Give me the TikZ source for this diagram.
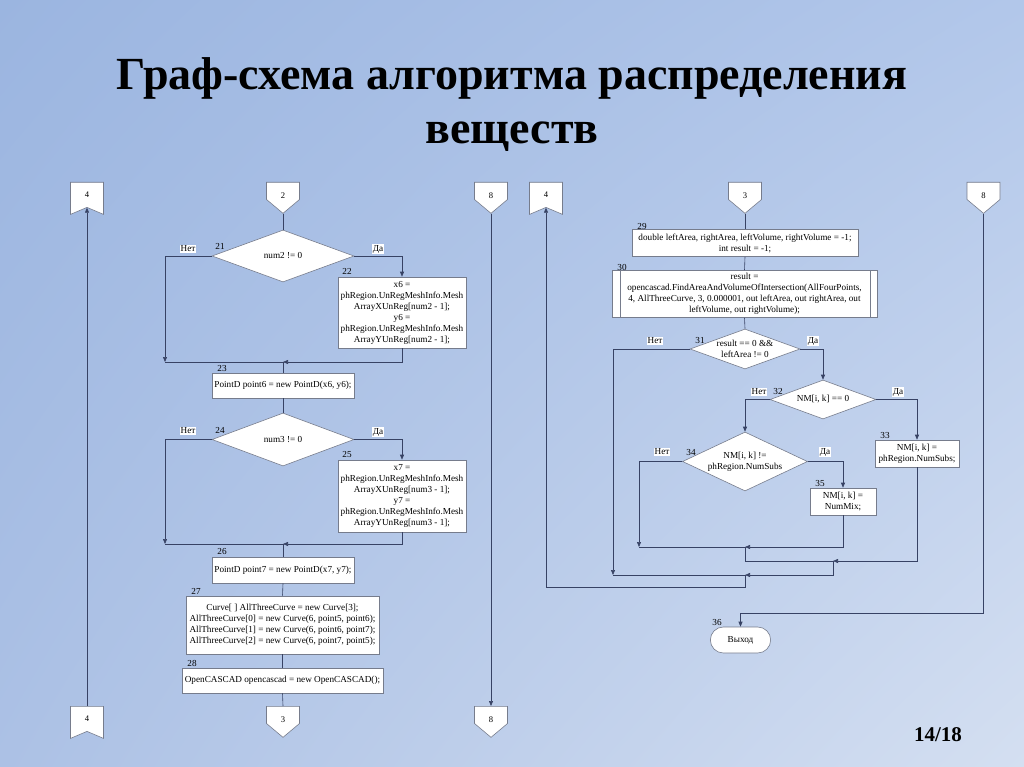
\documentclass[tikz,border=0pt]{standalone}
\usepackage{fontspec}
\setmainfont{Liberation Serif}
\usetikzlibrary{shapes.geometric,shapes.symbols,shapes.misc,arrows.meta,shadings}

\definecolor{linecol}{RGB}{55,66,100}
\definecolor{boxcol}{RGB}{118,124,140}
\definecolor{bgA}{RGB}{155,181,224}
\definecolor{bgB}{RGB}{178,199,234}
\definecolor{bgC}{RGB}{172,193,229}
\definecolor{bgD}{RGB}{212,223,241}

\tikzset{
  flow/.style={draw=linecol, line width=0.6pt},
  arr/.style={flow, -{Triangle[length=5pt,width=4pt]}},
  box/.style={rectangle, draw=boxcol, fill=white, line width=0.6pt, align=center,
    inner sep=1pt, font=\fontsize{9.2}{11}\selectfont},
  cond/.style={diamond, aspect=2.5, draw=boxcol, fill=white, line width=0.6pt,
    align=center, inner sep=-4pt, font=\fontsize{9.2}{11}\selectfont},
  pentdown/.style={signal, signal to=south, signal pointer angle=100, draw=boxcol,
    fill=white, line width=0.6pt, minimum width=33pt, minimum height=19pt,
    inner sep=0pt, text height=16pt, text depth=0pt, anchor=north,
    font=\fontsize{8.6}{10}\selectfont},
  notch/.style={signal, signal to=nowhere, signal from=south, signal pointer angle=134,
    draw=boxcol, fill=white, line width=0.6pt, minimum width=33pt, minimum height=26pt,
    inner sep=0pt, anchor=north, font=\fontsize{8.6}{10}\selectfont},
  exitbox/.style={rounded rectangle, draw=boxcol, fill=white, line width=0.6pt,
    minimum width=67pt, minimum height=26pt, font=\fontsize{9.2}{11}\selectfont},
  num/.style={inner sep=0pt, font=\fontsize{9.2}{11}\selectfont},
  yesno/.style={num, fill=white, inner sep=0.7pt},
}

\begin{document}
\begin{tikzpicture}[x=1pt, y=-1pt]

  \def\Xl{165};
  \def\Xm{283};
  \def\Xr{402};
  \def\Xp{87};
  \def\Xq{491};

  % background
  \useasboundingbox (0,0) rectangle (1024,767);
  \shade[upper left=bgA, upper right=bgB, lower left=bgC, lower right=bgD]
    (0,0) rectangle (1024,767);

  % title
  \node[font=\fontsize{46}{54}\selectfont\bfseries, align=center] (title) at (512,105)
    {Граф-схема алгоритма распределения\\веществ};
  \node[font=\fontsize{21}{24}\selectfont\bfseries] (page) at (938,735) {14/18};

  % left chart: connectors
  \node[notch] (t4a) at (\Xp,182) {4};
  \node[pentdown] (t2) at (\Xm,182) {2};
  \node[pentdown] (t8a) at (\Xq,182) {8};
  \node[notch] (c4) at (\Xp,706) {4};
  \node[pentdown] (c3) at (\Xm,706) {3};
  \node[pentdown] (c8) at (\Xq,706) {8};

  % left chart: blocks
  \node[cond, minimum width=142pt, minimum height=52pt] (d21) at (\Xm,256) {num2 != 0};
  \node[box, minimum width=128pt, minimum height=71pt] (b22) at (\Xr,312.5)
    {x6 =\\phRegion.UnRegMeshInfo.Mesh\\ArrayXUnReg[num2 - 1];\\y6 =\\phRegion.UnRegMeshInfo.Mesh\\ArrayYUnReg[num2 - 1];};
  \node[box, minimum width=142pt, minimum height=25pt] (b23) at (\Xm,385.5)
    {PointD point6 = new PointD(x6, y6);};
  \node[cond, minimum width=142pt, minimum height=53pt] (d24) at (\Xm,439.5) {num3 != 0};
  \node[box, minimum width=128pt, minimum height=72pt] (b25) at (\Xr,496)
    {x7 =\\phRegion.UnRegMeshInfo.Mesh\\ArrayXUnReg[num3 - 1];\\y7 =\\phRegion.UnRegMeshInfo.Mesh\\ArrayYUnReg[num3 - 1];};
  \node[box, minimum width=142pt, minimum height=26pt] (b26) at (\Xm,570)
    {PointD point7 = new PointD(x7, y7);};
  \node[box, minimum width=193pt, minimum height=58pt] (b27) at (282.5,625)
    {Curve[ ] AllThreeCurve = new Curve[3];\\AllThreeCurve[0] = new Curve(6, point5, point6);\\AllThreeCurve[1] = new Curve(6, point6, point7);\\AllThreeCurve[2] = new Curve(6, point7, point5);};
  \node[box, minimum width=201pt, minimum height=25pt] (b28) at (282.5,680.5)
    {OpenCASCAD opencascad = new OpenCASCAD();};

  \coordinate (j21) at (\Xl,362);
  \coordinate (m23) at (\Xm,362);
  \coordinate (j24) at (\Xl,544);
  \coordinate (m26) at (\Xm,544);

  % left chart: lines
  \draw[flow] (t2.south) -- (d21.north);
  \draw[arr] (d21.west) -| (j21);
  \draw[arr] (d21.east) -| (b22.north);
  \draw[arr] (b22.south) |- (m23);
  \draw[flow] (j21) -- (m23) -- (b23.north);
  \draw[flow] (b23.south) -- (d24.north);
  \draw[arr] (d24.west) -| (j24);
  \draw[arr] (d24.east) -| (b25.north);
  \draw[arr] (b25.south) |- (m26);
  \draw[flow] (j24) -- (m26) -- (b26.north);
  \draw[flow] (b26.south) -- (b27.north);
  \draw[flow] (b27.south) -- (b28.north);
  \draw[flow] (b28.south) -- (c3.north);
  \draw[arr] (c4.north) -- (t4a.south);
  \draw[arr] (t8a.south) -- (c8.north);

  % left chart: labels
  \node[yesno] (n21) at (188,249) {Нет};
  \node[num] (l21) at (220,246) {21};
  \node[yesno] (y21) at (378,249) {Да};
  \node[num] (l22) at (347,271) {22};
  \node[num] (l23) at (222,368) {23};
  \node[yesno] (n24) at (188,431) {Нет};
  \node[num] (l24) at (220,430) {24};
  \node[yesno] (y24) at (378,432) {Да};
  \node[num] (l25) at (347,454) {25};
  \node[num] (l26) at (222,551) {26};
  \node[num] (l27) at (196,591) {27};
  \node[num] (l28) at (192,663) {28};

  % right chart: connectors
  \node[notch] (r4) at (546,182) {4};
  \node[pentdown] (r3) at (745,182) {3};
  \node[pentdown] (r8) at (983.5,182) {8};

  % right chart: blocks
  \node[box, minimum width=226pt, minimum height=27pt] (b29) at (745,243)
    {double leftArea, rightArea, leftVolume, rightVolume = -1;\\int result = -1;};
  \node[box, minimum width=265pt, minimum height=47pt] (b30) at (744.5,294)
    {result =\\opencascad.FindAreaAndVolumeOfIntersection(AllFourPoints,\\4, AllThreeCurve, 3, 0.000001, out leftArea, out rightArea, out\\leftVolume, out rightVolume);};
  \draw[draw=boxcol, line width=0.6pt] ([xshift=9pt]b30.north west) -- ([xshift=9pt]b30.south west);
  \draw[draw=boxcol, line width=0.6pt] ([xshift=-7pt]b30.north east) -- ([xshift=-7pt]b30.south east);
  \node[cond, minimum width=110pt, minimum height=40pt] (d31) at (745,349)
    {result == 0 \&\&\\leftArea != 0};
  \node[cond, minimum width=106pt, minimum height=39pt] (d32) at (823,399.5) {NM[i, k] == 0};
  \node[box, minimum width=84pt, minimum height=27pt] (b33) at (917,453.5)
    {NM[i, k] =\\phRegion.NumSubs;};
  \node[cond, minimum width=125pt, minimum height=59pt] (d34) at (745,461.5)
    {NM[i, k] !=\\phRegion.NumSubs};
  \node[box, minimum width=66pt, minimum height=27pt] (b35) at (843,501.5)
    {NM[i, k] =\\NumMix;};
  \node[exitbox] (ex) at (740.5,640) {Выход};

  \coordinate (j31) at (613,575);
  \coordinate (j34) at (639,547);
  \coordinate (m35) at (745,547);
  \coordinate (m33) at (833,561);
  \coordinate (m31) at (745,575);
  \coordinate (k4) at (546,587);
  \coordinate (k8) at (740.5,613);

  % right chart: lines
  \draw[flow] (r3.south) -- (b29.north);
  \draw[flow] (b29.south) -- (b30.north);
  \draw[flow] (b30.south) -- (d31.north);
  \draw[arr] (d31.west) -| (j31);
  \draw[arr] (d31.east) -| (d32.north);
  \draw[arr] (d32.west) -| (d34.north);
  \draw[arr] (d32.east) -| (b33.north);
  \draw[arr] (d34.west) -| (j34);
  \draw[arr] (d34.east) -| (b35.north);
  \draw[arr] (b35.south) |- (m35);
  \draw[flow] (j34) -- (m35);
  \draw[arr] (b33.south) |- (m33);
  \draw[flow] (m35) |- (m33);
  \draw[arr] (m33) |- (m31);
  \draw[flow] (j31) -- (m31);
  \draw[arr] (m31) |- (k4) -- (r4.south);
  \draw[arr] (r8.south) |- (k8) -- (ex.north);

  % right chart: labels
  \node[num] (l29) at (642,226) {29};
  \node[num] (l30) at (622,267) {30};
  \node[yesno] (n31) at (655,341) {Нет};
  \node[num] (l31) at (700,340) {31};
  \node[yesno] (y31) at (813,341) {Да};
  \node[yesno] (n32) at (759,392) {Нет};
  \node[num] (l32) at (778,391) {32};
  \node[yesno] (y32) at (898,392) {Да};
  \node[num] (l33) at (885,435) {33};
  \node[yesno] (n34) at (662,452) {Нет};
  \node[num] (l34) at (691,452) {34};
  \node[yesno] (y34) at (825,452) {Да};
  \node[num] (l35) at (820,483) {35};
  \node[num] (l36) at (717,622) {36};
\end{tikzpicture}
\end{document}
